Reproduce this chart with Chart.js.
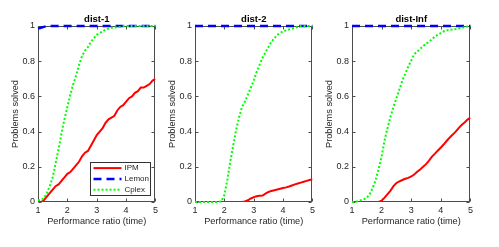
<!DOCTYPE html>
<html>
<head>
<meta charset="utf-8">
<script src="https://cdn.jsdelivr.net/npm/chart.js@4.4.1/dist/chart.umd.min.js"></script>
<style>
  body { margin: 0; background: #fff; }
  #wrap { position: relative; width: 499px; height: 247px; }
  canvas { position: absolute; top: 0; }
</style>
</head>
<body>
<div id="wrap">
  <canvas id="c1" width="161" height="247" style="left:0px"></canvas>
  <canvas id="c2" width="161" height="247" style="left:157px"></canvas>
  <canvas id="c3" width="162" height="247" style="left:314px"></canvas>
</div>
<script>
// performance ratio grid (x)
const ratio = [1.0,1.1,1.2,1.3,1.4,1.5,1.6,1.7,1.8,1.9,2.0,2.1,2.2,2.3,2.4,2.5,2.6,2.7,2.8,2.9,
               3.0,3.1,3.2,3.3,3.4,3.5,3.6,3.7,3.8,3.9,4.0,4.1,4.2,4.3,4.4,4.5,4.6,4.7,4.8,4.9,5.0];
const xTicks = [1, 2, 3, 4, 5];
const yTicks = [0, 0.2, 0.4, 0.6, 0.8, 1];
const seriesNames = ['IPM', 'Lemon', 'Cplex'];
const panelTitles = ['dist-1', 'dist-2', 'dist-Inf'];

// dist-1
const dist1Ipm = [0,0,0.01,0.03,0.05,0.07,0.09,0.10,0.12,0.14,0.16,0.17,0.19,0.21,0.23,0.26,0.28,0.29,0.32,0.35,
                  0.38,0.40,0.42,0.45,0.47,0.48,0.49,0.52,0.54,0.55,0.57,0.59,0.60,0.62,0.63,0.65,0.65,0.66,0.67,0.69,0.70];
const dist1Lemon = [0.985,0.99,0.995,1,1,1,1,1,1,1,1,1,1,1,1,1,1,1,1,1,
                    1,1,1,1,1,1,1,1,1,1,1,1,1,1,1,1,1,1,1,1,1];
const dist1Cplex = [0.01,0.01,0.02,0.05,0.09,0.14,0.22,0.30,0.39,0.47,0.54,0.61,0.67,0.72,0.78,0.83,0.86,0.88,0.91,0.93,
                    0.95,0.96,0.97,0.98,0.985,0.99,0.99,0.995,0.995,1,1,1,1,1,1,1,1,1,1,1,1];
// dist-2
const dist2Ipm = [0,0,0,0,0,0,0,0,0,0,0,0,0,0,0,0,0,0.003,0.01,0.02,
                  0.028,0.033,0.035,0.037,0.048,0.057,0.063,0.067,0.071,0.075,0.079,0.083,0.088,0.094,0.10,0.105,0.11,0.115,0.12,0.125,0.129];
const dist2Lemon = [1,1,1,1,1,1,1,1,1,1,1,1,1,1,1,1,1,1,1,1,
                    1,1,1,1,1,1,1,1,1,1,1,1,1,1,1,1,1,1,1,1,1];
const dist2Cplex = [0,0,0,0,0,0,0,0,0,0.005,0.04,0.125,0.23,0.32,0.41,0.48,0.54,0.57,0.61,0.65,
                    0.69,0.74,0.78,0.82,0.85,0.88,0.91,0.93,0.95,0.96,0.97,0.975,0.98,0.985,0.99,0.995,1,1,1,1,1];
// dist-Inf
const dist3Ipm = [0,0,0,0,0,0,0,0,0,0,0.008,0.025,0.045,0.065,0.09,0.108,0.117,0.125,0.132,0.137,
                  0.145,0.156,0.172,0.185,0.20,0.215,0.235,0.258,0.275,0.293,0.31,0.328,0.348,0.367,0.383,0.40,0.42,0.437,0.452,0.468,0.48];
const dist3Lemon = [1,1,1,1,1,1,1,1,1,1,1,1,1,1,1,1,1,1,1,1,
                    1,1,1,1,1,1,1,1,1,1,1,1,1,1,1,1,1,1,1,1,1];
const dist3Cplex = [0,0,0.005,0.01,0.015,0.025,0.045,0.08,0.125,0.19,0.26,0.35,0.42,0.485,0.54,0.59,0.64,0.69,0.73,0.77,
                    0.805,0.84,0.855,0.87,0.885,0.90,0.91,0.925,0.94,0.95,0.96,0.97,0.975,0.978,0.98,0.983,0.986,0.99,0.993,0.997,1.0];

const FONT = '"Liberation Sans", Arial, Helvetica, sans-serif';
const TXT = '#262626';
const AXIS = '#4d4d4d';

// matlab style box with inward ticks, title over the plot area, legend inside
const boxPlugin = {
  id: 'boxTicks',
  beforeDatasetsDraw(chart) {
    const {ctx, chartArea: a, scales} = chart;
    const L = Math.round(a.left) + 0.5, R = Math.round(a.right) - 0.5;
    const T = Math.round(a.top) + 0.5, B = Math.round(a.bottom) - 0.5;
    ctx.save();
    ctx.strokeStyle = AXIS;
    ctx.lineWidth = 1;
    ctx.strokeRect(L, T, R - L, B - T);
    ctx.beginPath();
    xTicks.forEach(v => {
      const x = Math.round(scales.x.getPixelForValue(v)) + 0.5;
      ctx.moveTo(x, B); ctx.lineTo(x, B - 3);
      ctx.moveTo(x, T); ctx.lineTo(x, T + 3);
    });
    yTicks.forEach(v => {
      const y = Math.round(scales.y.getPixelForValue(v)) + 0.5;
      ctx.moveTo(L, y); ctx.lineTo(L + 3, y);
      ctx.moveTo(R, y); ctx.lineTo(R - 3, y);
    });
    ctx.stroke();
    // title
    ctx.fillStyle = '#000';
    ctx.font = 'bold 9.5px ' + FONT;
    ctx.textAlign = 'center';
    ctx.textBaseline = 'middle';
    ctx.fillText(chart.options.plugins.boxTicks.title, (a.left + a.right) / 2, a.top - 6.5);
    ctx.restore();
  },
  afterDraw(chart) {
    if (!chart.options.plugins.boxTicks.legend) return;
    const {ctx, chartArea: a} = chart;
    const w = 60, h = 33;
    const left = Math.round(a.right) - 5 - w + 0.5;
    const top = Math.round(a.bottom) - 7 - h + 0.5;
    ctx.save();
    ctx.fillStyle = '#fff';
    ctx.fillRect(left, top, w, h);
    ctx.strokeStyle = '#333';
    ctx.lineWidth = 1;
    ctx.strokeRect(left, top, w, h);
    ctx.font = '8px ' + FONT;
    ctx.textBaseline = 'middle';
    chart.data.datasets.forEach((ds, i) => {
      const y = top + 5.6 + i * 10.8;
      ctx.beginPath();
      ctx.strokeStyle = ds.borderColor;
      ctx.lineWidth = ds.borderWidth;
      ctx.setLineDash(ds.borderDash || []);
      ctx.moveTo(left + 3, y);
      ctx.lineTo(left + 31, y);
      ctx.stroke();
      ctx.setLineDash([]);
      ctx.fillStyle = TXT;
      ctx.fillText(ds.label, left + 34, y);
    });
    ctx.restore();
  }
};

function pts(vals) {
  return ratio.map((r, i) => ({x: r, y: vals[i]}));
}

function tickText(v) {
  return String(Math.round(v * 10) / 10);
}

function drawPanel(id, title, ipm, lemon, cplex, withLegend) {
  const ctx = document.getElementById(id).getContext('2d');
  return new Chart(ctx, {
    type: 'line',
    data: {
      datasets: [
        {label: seriesNames[0], data: pts(ipm), borderColor: '#ff0000', borderWidth: 2, order: 3},
        {label: seriesNames[1], data: pts(lemon), borderColor: '#0000ff', borderWidth: 2.5, borderDash: [8, 5], order: 2, clip: 3},
        {label: seriesNames[2], data: pts(cplex), borderColor: '#00ff00', borderWidth: 2, borderDash: [2, 2], order: 1, clip: 3}
      ]
    },
    options: {
      responsive: false,
      animation: false,
      devicePixelRatio: 1,
      elements: {point: {radius: 0}, line: {tension: 0, fill: false}},
      layout: {padding: {left: 0, right: 4, top: 26, bottom: 0}},
      plugins: {
        legend: {display: false},
        tooltip: {enabled: false},
        title: {display: false},
        boxTicks: {legend: withLegend, title: title}
      },
      scales: {
        x: {
          type: 'linear', min: 1, max: 5,
          afterBuildTicks: s => { s.ticks = xTicks.map(v => ({value: v})); },
          afterFit: s => { s.height = 45; },
          ticks: {color: TXT, font: {family: FONT, size: 9}, padding: 3, maxRotation: 0, callback: tickText},
          grid: {display: false, drawTicks: false},
          border: {display: false},
          title: {display: true, text: 'Performance ratio (time)', color: TXT,
                  font: {family: FONT, size: 9.2}, padding: {top: 0, bottom: 20}}
        },
        y: {
          min: 0, max: 1,
          afterBuildTicks: s => { s.ticks = yTicks.map(v => ({value: v})); },
          afterFit: s => { s.width = 38; },
          ticks: {color: TXT, font: {family: FONT, size: 9}, padding: 3, callback: tickText},
          grid: {display: false, drawTicks: false},
          border: {display: false},
          title: {display: true, text: 'Problems solved', color: TXT,
                  font: {family: FONT, size: 9.2}, padding: {top: 9.5, bottom: 0}}
        }
      }
    },
    plugins: [boxPlugin]
  });
}

drawPanel('c1', panelTitles[0], dist1Ipm, dist1Lemon, dist1Cplex, true);
drawPanel('c2', panelTitles[1], dist2Ipm, dist2Lemon, dist2Cplex, false);
drawPanel('c3', panelTitles[2], dist3Ipm, dist3Lemon, dist3Cplex, false);
</script>
</body>
</html>
